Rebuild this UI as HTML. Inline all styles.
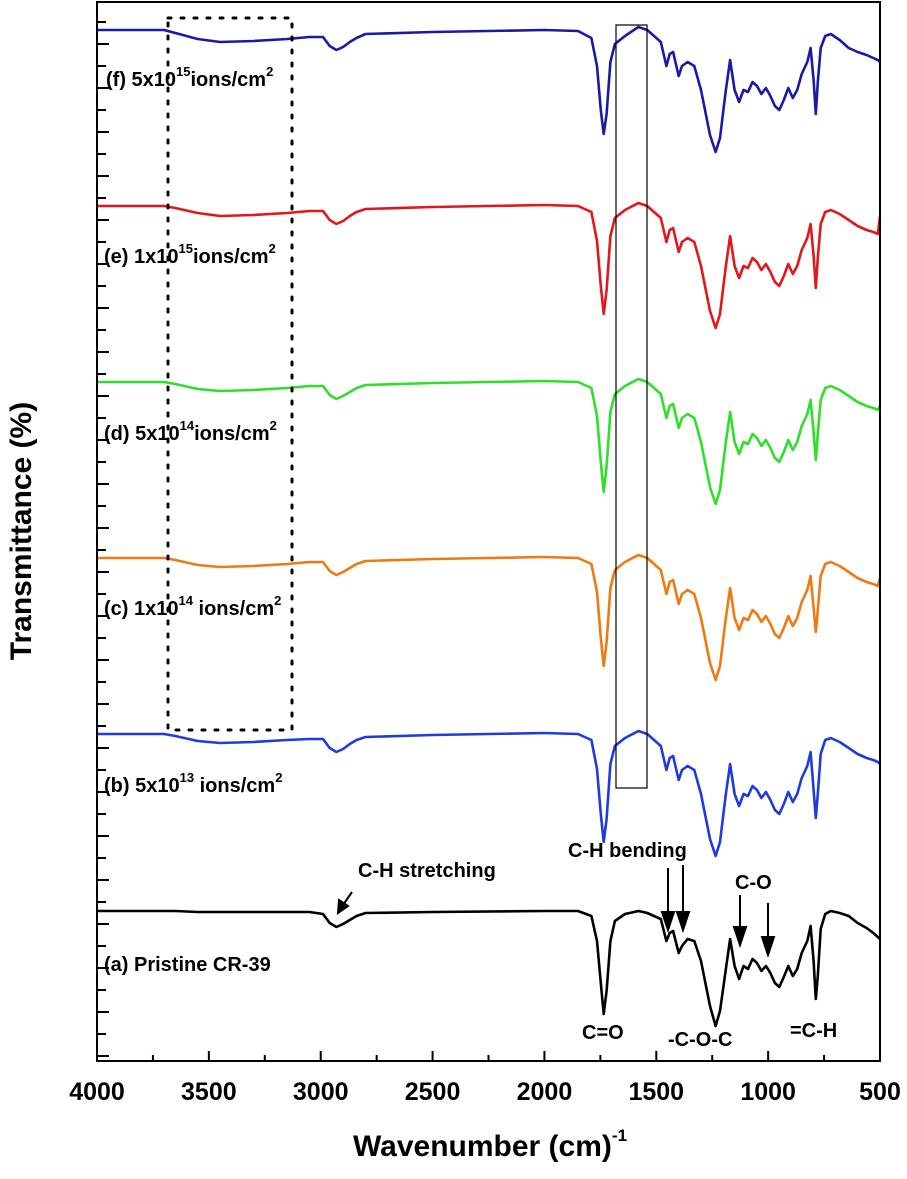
<!DOCTYPE html>
<html><head><meta charset="utf-8"><style>
html,body{margin:0;padding:0;background:#fff;}
svg{display:block;font-family:"Liberation Sans",Arial,sans-serif;font-weight:bold;}
</style></head><body>
<svg id="chart" width="907" height="1179" viewBox="0 0 907 1179">
<g id="ticks"></g>
<g id="series"></g>
<rect x="97" y="2" width="783" height="1059" fill="none" stroke="#000" stroke-width="2"/>
<rect x="168" y="18" width="124" height="712" fill="none" stroke="#000" stroke-width="3" stroke-dasharray="3,10" stroke-linecap="round"/>
<rect x="616" y="25" width="31" height="763" fill="none" stroke="#000" stroke-width="1.2"/>
<g font-size="20">
<text x="106" y="86">(f) 5x10<tspan dy="-10" font-size="13">15</tspan><tspan dy="10">ions/cm</tspan><tspan dy="-10" font-size="13">2</tspan></text>
<text x="104" y="263">(e) 1x10<tspan dy="-10" font-size="13">15</tspan><tspan dy="10">ions/cm</tspan><tspan dy="-10" font-size="13">2</tspan></text>
<text x="104" y="440">(d) 5x10<tspan dy="-10" font-size="13">14</tspan><tspan dy="10">ions/cm</tspan><tspan dy="-10" font-size="13">2</tspan></text>
<text x="104" y="615">(c) 1x10<tspan dy="-10" font-size="13">14</tspan><tspan dy="10"> ions/cm</tspan><tspan dy="-10" font-size="13">2</tspan></text>
<text x="104" y="792">(b) 5x10<tspan dy="-10" font-size="13">13</tspan><tspan dy="10"> ions/cm</tspan><tspan dy="-10" font-size="13">2</tspan></text>
<text x="104" y="971">(a) Pristine CR-39</text>
</g>
<g font-size="20">
<text x="358" y="877">C-H stretching</text>
<text x="568" y="857">C-H bending</text>
<text x="735" y="889">C-O</text>
<text x="582" y="1039">C=O</text>
<text x="668" y="1046">-C-O-C</text>
<text x="790" y="1037">=C-H</text>
</g>
<g stroke="#000" stroke-width="2">
<line x1="352" y1="892" x2="343" y2="905"/><polygon points="338,913 339,900 348,906" fill="#000"/>
<line x1="668" y1="868" x2="668" y2="915"/><polygon points="668,930 662,912 674,912" fill="#000"/>
<line x1="683" y1="865" x2="683" y2="915"/><polygon points="683,930 677,912 689,912" fill="#000"/>
<line x1="740" y1="895" x2="740" y2="930"/><polygon points="740,945 734,927 746,927" fill="#000"/>
<line x1="768" y1="903" x2="768" y2="940"/><polygon points="768,955 762,937 774,937" fill="#000"/>
</g>
<text x="490" y="1156" font-size="30" text-anchor="middle">Wavenumber (cm)<tspan dy="-15" font-size="17">-1</tspan></text>
<text transform="translate(31,531) rotate(-90)" font-size="30" text-anchor="middle">Transmittance (%)</text>
<g id="xlabels" font-size="25" text-anchor="middle"></g>
</svg>
<script>
const wn=[4000,3700,3650,3550,3450,3300,3150,3050,2990,2960,2930,2900,2870,2840,2800,2500,2000,1850,1790,1765,1748,1735,1722,1705,1685,1640,1580,1540,1480,1455,1440,1425,1400,1385,1360,1330,1300,1260,1235,1215,1190,1170,1150,1130,1110,1090,1070,1050,1030,1010,990,970,950,930,910,890,870,850,825,810,797,787,778,765,745,720,680,640,600,560,530,510,500];
const dropA=[0,0,0,1,1,1,1,1,3,12,16,13,9,5,2,1,0,0,5,30,72,103,80,30,10,3,0,2,8,30,22,20,42,35,28,30,50,95,115,100,60,28,55,68,55,58,48,52,60,55,62,72,76,66,55,65,58,42,30,15,50,88,65,18,3,0,2,5,12,17,22,26,28];
const dropB=[0,0,2,7,9,8,6,5,5,14,18,15,10,6,3,1,-1,0,6,35,80,108,85,30,12,4,-3,0,12,36,24,22,46,36,32,36,60,105,122,108,62,30,60,72,60,62,52,56,64,58,66,76,80,70,58,68,60,44,32,18,56,84,60,20,6,4,8,14,20,24,26,28,30];
const dropC=[0,0,2,7,9,8,6,4,4,13,17,14,10,6,3,1,-1,0,6,34,80,108,84,30,12,4,-3,0,12,36,24,22,46,36,32,36,60,105,122,108,62,30,60,72,60,62,52,56,64,58,66,76,80,70,58,68,60,44,32,18,50,74,52,18,6,4,8,14,20,24,26,28,20];
const dropD=[0,0,2,7,9,8,6,4,4,13,17,14,10,6,3,1,-1,0,6,34,80,110,84,30,12,4,-3,0,12,36,24,22,46,36,32,36,60,105,122,108,62,30,60,72,60,62,52,56,64,58,66,76,80,70,58,68,60,44,32,18,50,78,52,18,6,4,8,14,20,24,26,28,24];
const dropE=[0,0,2,7,10,9,7,5,5,14,18,15,10,6,3,1,-1,0,6,35,80,108,84,30,12,4,-3,0,12,36,24,22,46,36,32,36,60,105,122,108,62,30,60,72,60,62,52,56,64,58,66,76,80,70,58,68,60,44,32,18,50,82,52,18,6,4,8,14,20,24,26,28,10];
const dropF=[0,0,3,9,12,11,9,7,7,16,20,17,12,8,4,2,0,1,8,36,80,104,84,32,14,6,-3,0,12,36,24,22,46,36,32,36,60,105,122,108,62,30,60,72,60,62,52,56,64,58,66,76,80,70,58,68,60,44,32,18,50,84,52,18,6,4,10,18,22,25,28,30,32];
const offsets=[911,734,558,382,206,30];
const colors=["#000000","#1f3be0","#f07a12","#2ee02a","#e3171b","#1a1aa6"];
const names=["spectrum-a-pristine","spectrum-b-5e13","spectrum-c-1e14","spectrum-d-5e14","spectrum-e-1e15","spectrum-f-5e15"];
const drops=[dropA,dropB,dropC,dropD,dropE,dropF];
const xTicks=[4000,3500,3000,2500,2000,1500,1000,500];
const NS="http://www.w3.org/2000/svg";
const X=w=>880-(w-500)*(783/3500);
const Y=(off,d)=>off+d;
const sg=document.getElementById('series');
drops.forEach((d,i)=>{
  let p="";
  wn.forEach((w,j)=>{p+=(j?"L":"M")+X(w).toFixed(1)+","+Y(offsets[i],d[j]).toFixed(1);});
  const el=document.createElementNS(NS,'path');
  el.setAttribute('d',p);el.setAttribute('fill','none');el.setAttribute('stroke',colors[i]);
  el.setAttribute('stroke-width','2.6');el.setAttribute('stroke-linejoin','round');
  
  
  sg.appendChild(el);
});
const tg=document.getElementById('ticks');
const xl=document.getElementById('xlabels');
let td="";
for(let w=4000;w>=500;w-=250){const x=X(w);const major=(w%500===0);td+=`M${x},1061V${1061-(major?10:6)}`;}
for(let y=22;y<1060;y+=22){td+=`M97,${y}H${y%44===0?109:106}`;}
const tp=document.createElementNS(NS,'path');
tp.setAttribute('d',td);tp.setAttribute('stroke','#000');tp.setAttribute('stroke-width','2');


tg.appendChild(tp);
xTicks.forEach(w=>{
  const t=document.createElementNS(NS,'text');
  t.setAttribute('x',X(w));t.setAttribute('y',1100);t.textContent=w;
  
  
  xl.appendChild(t);
});
</script>
</body></html>
